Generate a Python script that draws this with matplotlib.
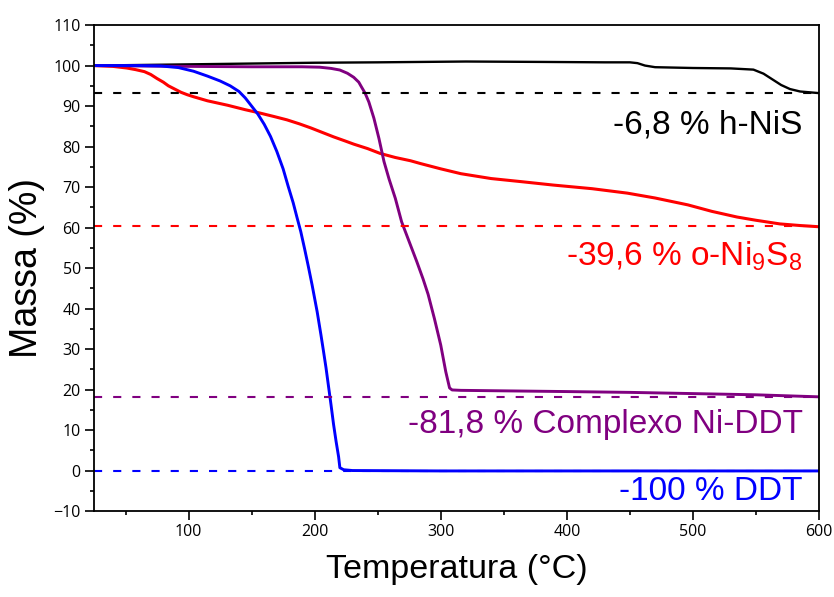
import matplotlib
matplotlib.use("Agg")
import matplotlib.pyplot as plt
from matplotlib.ticker import MultipleLocator

plt.rcParams['mathtext.fontset'] = 'custom'
plt.rcParams['mathtext.rm'] = 'Liberation Sans'
plt.rcParams['mathtext.it'] = 'Liberation Sans'

# TGA curves (temperature in degC, mass in %)
t_nis = [25, 50, 100, 150, 200, 250, 320, 380, 430, 450, 456, 462, 470, 500, 530,
         548, 556, 564, 570, 577, 585, 600]
m_nis = [100, 100.1, 100.3, 100.5, 100.7, 100.8, 101.0, 100.9, 100.8, 100.8, 100.6,
         100.0, 99.6, 99.4, 99.3, 99.0, 98.0, 96.4, 95.2, 94.2, 93.6, 93.2]

t_ni9s8 = [25, 40, 51, 58, 65, 70, 75, 80, 84, 89, 94, 99, 104, 115, 131, 145, 155,
           168, 178, 188, 197, 206, 215, 224, 231, 242, 252, 264, 276, 284, 300, 316,
           340, 365, 389, 420, 448, 470, 496, 515, 535, 550, 569, 585, 600]
m_ni9s8 = [100, 99.8, 99.4, 99.0, 98.5, 97.8, 96.8, 95.9, 95.0, 94.2, 93.4, 92.8,
           92.3, 91.3, 90.2, 89.1, 88.4, 87.4, 86.6, 85.6, 84.6, 83.5, 82.4, 81.4, 80.6,
           79.5, 78.3, 77.3, 76.5, 75.8, 74.5, 73.3, 72.1, 71.3, 70.5, 69.6, 68.5, 67.3,
           65.6, 64.0, 62.6, 61.8, 60.9, 60.5, 60.2]

t_cplx = [25, 60, 100, 150, 190, 204, 213, 220, 226, 231, 235, 237, 240, 243, 247,
          251, 255, 259, 264, 269, 275, 281, 286, 290, 295, 300, 304, 307, 309, 316,
          400, 450, 500, 550, 600]
m_cplx = [100, 99.9, 99.8, 99.7, 99.7, 99.6, 99.3, 98.9, 98.1, 97.1, 95.9, 94.8,
          93.2, 91.0, 87.0, 82.0, 76.3, 72.0, 67.2, 61.4, 56.5, 51.6, 47.3, 43.5, 37.5,
          31.0, 24.4, 20.4, 19.9, 19.8, 19.5, 19.3, 19.0, 18.7, 18.2]

t_ddt = [25, 60, 78, 92, 104, 115, 125, 133, 140, 145, 150, 155, 160, 165, 170, 175,
         179, 183, 186, 189, 192, 195, 198, 202, 205, 207, 209, 211, 213, 215, 217,
         219, 220, 223, 230, 300, 600]
m_ddt = [100, 100, 99.9, 99.5, 98.6, 97.4, 96.2, 95.0, 93.6, 92.0, 90.0, 88.0, 85.5,
         82.5, 78.8, 74.5, 70.2, 66.1, 62.5, 59.0, 54.8, 50.4, 45.8, 39.2, 33.5, 29.5,
         25.4, 20.8, 16.2, 11.4, 7.2, 3.4, 0.7, 0.2, 0.0, -0.1, -0.1]

# residual mass levels and their labels
residues = [93.2, 60.4, 18.2, 0.0]
labels = ['-6,8 % h-NiS', '-39,6 % o-Ni$_9$S$_8$', '-81,8 % Complexo Ni-DDT', '-100 % DDT']
label_y = [83.3, 50.7, 9.3, -7.3]
colors = ['black', '#FF0000', '#800080', '#0000FF']

fig = plt.figure(figsize=(8.34, 5.97), dpi=100)
ax = fig.add_axes([0.1127, 0.144, 0.8693, 0.814])

ax.plot(t_nis, m_nis, color=colors[0], lw=1.7)
ax.plot(t_ni9s8, m_ni9s8, color=colors[1], lw=2.2)
ax.plot(t_cplx, m_cplx, color=colors[2], lw=2.1)
ax.plot(t_ddt, m_ddt, color=colors[3], lw=2.1)

for r, lab, ly, c in zip(residues, labels, label_y, colors):
    ax.axhline(r, color=c, lw=1.5, dashes=(3.9, 5.3))
    ax.text(587, ly, lab, color=c, ha='right', va='baseline',
            fontsize=24, family='Liberation Sans')

ax.set_xlim(25, 600)
ax.set_ylim(-10, 110)
ax.xaxis.set_major_locator(MultipleLocator(100))
ax.xaxis.set_minor_locator(MultipleLocator(50))
ax.yaxis.set_major_locator(MultipleLocator(10))
ax.yaxis.set_minor_locator(MultipleLocator(5))
ax.tick_params(which='both', direction='out', top=False, right=False, width=1.2)
ax.tick_params(which='major', length=6.5, pad=3, labelsize=11.5)
ax.tick_params(which='minor', length=3)
for lbl in ax.get_xticklabels() + ax.get_yticklabels():
    lbl.set_family('Open Sans')
for sp in ax.spines.values():
    sp.set_linewidth(1.3)

ax.set_xlabel('Temperatura (°C)', fontsize=24.5, family='Liberation Sans', labelpad=10)
ax.set_ylabel('Massa (%)', fontsize=27, family='Liberation Sans', labelpad=6)

fig.savefig('out.png', dpi=100)
